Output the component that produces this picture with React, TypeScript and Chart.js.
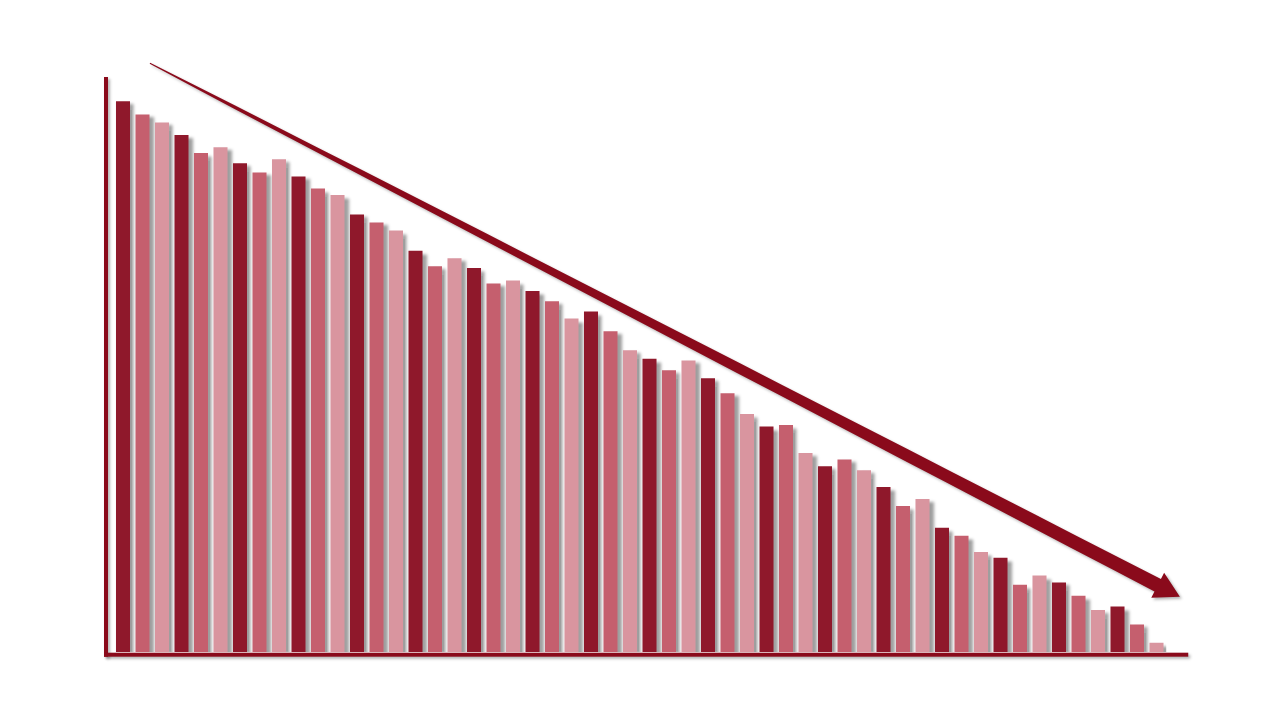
import React, { useEffect, useRef } from "react";
import { Chart, registerables } from "chart.js";

Chart.register(...registerables);

// 54 unlabeled bars, falling from left to right
const categories = [
    "1", "2", "3", "4", "5", "6", "7", "8", "9", "10",
    "11", "12", "13", "14", "15", "16", "17", "18", "19", "20",
    "21", "22", "23", "24", "25", "26", "27", "28", "29", "30",
    "31", "32", "33", "34", "35", "36", "37", "38", "39", "40",
    "41", "42", "43", "44", "45", "46", "47", "48", "49", "50",
    "51", "52", "53", "54",
];

const values = [
    95.8, 93.5, 92.1, 89.9, 86.8, 87.8, 85.0, 83.4, 85.7, 82.7,
    80.6, 79.5, 76.1, 74.7, 73.3, 69.8, 67.1, 68.5, 66.8, 64.1,
    64.6, 62.8, 61.0, 58.0, 59.2, 55.8, 52.5, 51.0, 49.0, 50.7,
    47.6, 45.0, 41.4, 39.2, 39.5, 34.6, 32.3, 33.5, 31.6, 28.7,
    25.4, 26.6, 21.6, 20.2, 17.4, 16.4, 11.7, 13.3, 12.1, 9.8,
    7.3, 7.9, 4.8, 1.6,
];

// arrow from / to, in [category index, value]
const arrowFrom = [1.38, 102.4];
const arrowTo = [54.2, 9.6];

const barShades = ["#8f182b", "#c55f6e", "#d9959f"];
const darkRed = "#8a0a1b";

const decorPlugin = {
    id: "decor",
    beforeDatasetsDraw(chart: any) {
        const ctx = chart.ctx;
        ctx.save();
        ctx.shadowColor = "rgba(0,0,0,0.38)";
        ctx.shadowBlur = 3;
        ctx.shadowOffsetX = 4;
        ctx.shadowOffsetY = 3;
    },
    afterDatasetsDraw(chart: any) {
        const ctx = chart.ctx;
        ctx.restore();

        const { left, right, top, bottom } = chart.chartArea;
        const xs = chart.scales.x;
        const ys = chart.scales.y;

        ctx.save();
        ctx.shadowColor = "rgba(0,0,0,0.3)";
        ctx.shadowBlur = 3;
        ctx.shadowOffsetX = 2;
        ctx.shadowOffsetY = 2;
        ctx.fillStyle = darkRed;

        // axis lines
        ctx.fillRect(left - 9.25, top, 4, bottom + 4.7 - top);
        ctx.fillRect(left - 9.25, bottom + 0.7, right + 22 - (left - 9.25), 4);

        // tapered arrow
        const x0 = xs.getPixelForValue(arrowFrom[0]);
        const y0 = ys.getPixelForValue(arrowFrom[1]);
        const tx = xs.getPixelForValue(arrowTo[0]);
        const ty = ys.getPixelForValue(arrowTo[1]);
        const len = Math.hypot(tx - x0, ty - y0);
        const dx = (tx - x0) / len;
        const dy = (ty - y0) / len;
        const px = -dy;
        const py = dx;
        const headLen = 25;
        const headHalf = 14;
        const shaftLen = len - headLen;
        const w0 = 1;
        const w1 = 14;

        const upper: number[][] = [];
        const lower: number[][] = [];
        const steps = 24;
        for (let i = 0; i <= steps; i++) {
            const t = i / steps;
            const w = (w0 + (w1 - w0) * Math.pow(t, 0.7)) / 2;
            const cx = x0 + dx * shaftLen * t;
            const cy = y0 + dy * shaftLen * t;
            upper.push([cx + px * w, cy + py * w]);
            lower.push([cx - px * w, cy - py * w]);
        }
        const bx = x0 + dx * shaftLen;
        const by = y0 + dy * shaftLen;

        ctx.beginPath();
        ctx.moveTo(upper[0][0], upper[0][1]);
        upper.forEach((p) => ctx.lineTo(p[0], p[1]));
        ctx.lineTo(bx + px * headHalf, by + py * headHalf);
        ctx.lineTo(tx, ty);
        ctx.lineTo(bx - px * headHalf, by - py * headHalf);
        for (let i = lower.length - 1; i >= 0; i--) {
            ctx.lineTo(lower[i][0], lower[i][1]);
        }
        ctx.closePath();
        ctx.fill();
        ctx.restore();
    },
};

const App = () => {
    const canvasRef = useRef<HTMLCanvasElement | null>(null);

    useEffect(() => {
        document.body.style.margin = "0";
        const ctx = canvasRef.current?.getContext("2d");
        if (!ctx) return;

        const chart = new Chart(ctx, {
            type: "bar",
            data: {
                labels: categories,
                datasets: [
                    {
                        data: values,
                        backgroundColor: values.map((_, i) => barShades[i % 3]),
                        borderWidth: 0,
                        barPercentage: 0.72,
                        categoryPercentage: 1,
                    },
                ],
            },
            options: {
                animation: false,
                responsive: true,
                maintainAspectRatio: false,
                layout: {
                    padding: { left: 113.25, right: 113.75, top: 77, bottom: 68 },
                },
                plugins: {
                    legend: { display: false },
                    tooltip: { enabled: false },
                },
                scales: {
                    x: { display: false, offset: true, grid: { display: false } },
                    y: { display: false, min: 0, max: 100 },
                },
            },
            plugins: [decorPlugin],
        });

        return () => {
            chart.destroy();
        };
    }, []);

    return (
        <div style={{ position: "fixed", left: 0, top: 0, width: 1280, height: 720, background: "#fff" }}>
            <canvas ref={canvasRef} />
        </div>
    );
};

export default App;
